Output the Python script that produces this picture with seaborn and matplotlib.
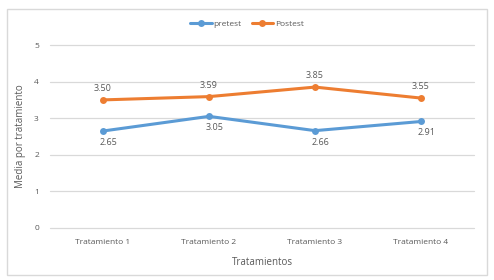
import matplotlib
matplotlib.use("Agg")
import matplotlib.pyplot as plt
import seaborn as sns
import pandas as pd
from matplotlib.patches import Rectangle

categories = ["Tratamiento 1", "Tratamiento 2", "Tratamiento 3", "Tratamiento 4"]
pretest = [2.65, 3.05, 2.66, 2.91]
postest = [3.50, 3.59, 3.85, 3.55]
series_names = ["pretest", "Postest"]
y_ticks = [0, 1, 2, 3, 4, 5]

df = pd.DataFrame({
    "Tratamientos": categories * 2,
    "Media": pretest + postest,
    "Serie": [series_names[0]] * len(categories) + [series_names[1]] * len(categories),
})

sns.set_theme(style="white")
plt.rcParams["font.family"] = ["Open Sans", "DejaVu Sans"]
text_color = "#595959"
colors = {"pretest": "#5B9BD5", "Postest": "#ED7D31"}

fig = plt.figure(figsize=(4.94, 2.8), dpi=100)
fig.patch.set_facecolor("white")
fig.add_artist(Rectangle((7 / 494, 1 - 275 / 280), 480 / 494, 266 / 280,
                         transform=fig.transFigure, fill=False,
                         edgecolor="#D9D9D9", linewidth=1.0))
ax = fig.add_axes([50 / 494, 1 - 228 / 280, 424 / 494, 183 / 280])

sns.lineplot(data=df, x="Tratamientos", y="Media", hue="Serie", palette=colors,
             marker="o", markersize=5, markeredgewidth=0, linewidth=2.2,
             sort=False, ax=ax, legend=True)

ax.set_xlim(-0.5, len(categories) - 0.5)
ax.set_ylim(0, 5)
ax.set_yticks(y_ticks)
ax.set_yticklabels([str(t) for t in y_ticks])
ax.yaxis.grid(True, color="#D9D9D9", linewidth=0.9)
for gl in ax.get_ygridlines():
    gl.set_clip_on(False)
ax.set_axisbelow(True)
for s in ax.spines.values():
    s.set_visible(False)
ax.tick_params(axis="both", length=0, labelsize=6, colors=text_color, pad=8)
ax.set_xlabel("Tratamientos", fontsize=7, color=text_color, labelpad=8)
ax.set_ylabel("Media por tratamiento", fontsize=7, color=text_color, labelpad=6)

for i, v in enumerate(postest):
    ax.annotate(f"{v:.2f}", (i, v), xytext=(0, 5), textcoords="offset points",
                ha="center", va="bottom", fontsize=6.5, color=text_color)
for i, v in enumerate(pretest):
    ax.annotate(f"{v:.2f}", (i, v), xytext=(4, -5), textcoords="offset points",
                ha="center", va="top", fontsize=6.5, color=text_color)

leg = ax.legend(loc="center", bbox_to_anchor=(0.5, 1 - 24 / 280), bbox_transform=fig.transFigure,
                ncol=2, frameon=False, fontsize=6, handlelength=2.6, columnspacing=1.2,
                handletextpad=0.2, title=None)
for t in leg.get_texts():
    t.set_color(text_color)

fig.savefig("out.png", dpi=100, facecolor="white")
